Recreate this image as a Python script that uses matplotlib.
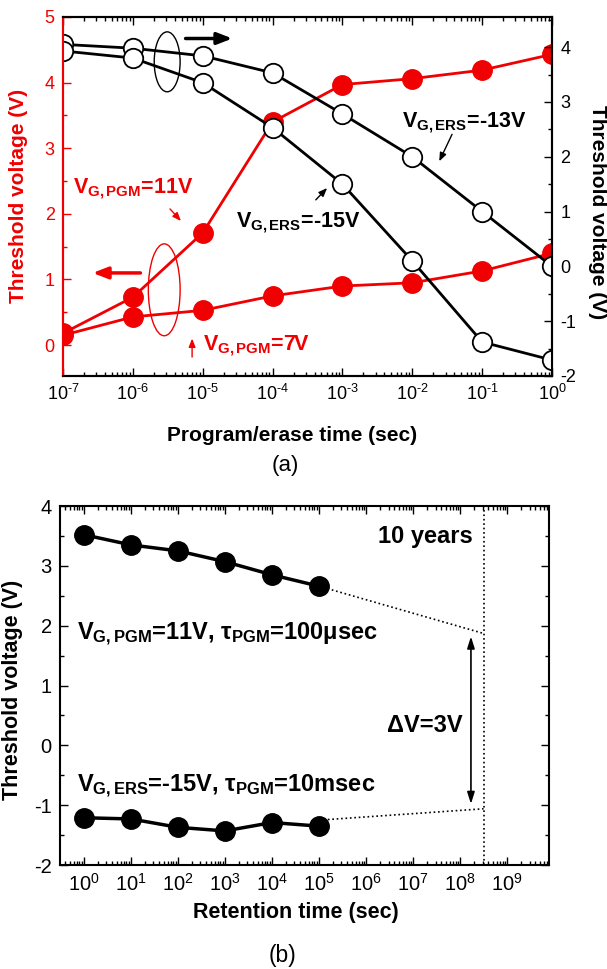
import numpy as np
import matplotlib
matplotlib.use('Agg')
import matplotlib.pyplot as plt
from matplotlib.patches import Ellipse
from matplotlib.ticker import (LogLocator, MultipleLocator, NullFormatter,
                               FixedLocator, FuncFormatter)

plt.rcParams['font.family'] = ['Liberation Sans', 'DejaVu Sans']
plt.rcParams['mathtext.fontset'] = 'custom'
plt.rcParams['mathtext.rm'] = 'Liberation Sans'
plt.rcParams['mathtext.bf'] = 'Liberation Sans:bold'
plt.rcParams['mathtext.it'] = 'Liberation Sans:italic'
plt.rcParams['axes.unicode_minus'] = False

ROUGE = '#f00000'

# (a) Vth en fonction du temps de programmation / effacement
t_pe = [1e-7, 1e-6, 1e-5, 1e-4, 1e-3, 1e-2, 1e-1, 1e0]
vth_pgm11 = [0.18, 0.73, 1.71, 3.40, 3.97, 4.06, 4.19, 4.43]
vth_pgm7 = [0.15, 0.43, 0.53, 0.75, 0.90, 0.95, 1.13, 1.40]
vth_ers13 = [4.05, 3.98, 3.84, 3.53, 2.78, 2.00, 1.00, 0.00]
vth_ers15 = [3.93, 3.80, 3.35, 2.53, 1.50, 0.10, -1.38, -1.71]

# (b) retention
t_ret = [1e0, 1e1, 1e2, 1e3, 1e4, 1e5]
vth_ret_pgm = [3.52, 3.35, 3.25, 3.07, 2.85, 2.66]
vth_ret_ers = [-1.21, -1.23, -1.37, -1.43, -1.29, -1.35]
dix_ans = 10 * 365 * 24 * 3600
extrap_t = [1e5, dix_ans]
extrap_pgm = [2.66, 1.87]
extrap_ers = [-1.25, -1.06]
delta_t = 1.7e8
delta_v = [1.82, -0.98]
decades_ret = [10.0**k for k in range(10)]


def puissance(x, pos):
    e = int(round(np.log10(x)))
    if e < 0:
        return r'10$^{\mathregular{\text{-}%d}}$' % (-e)
    return r'10$^{\mathregular{%d}}$' % e


fig = plt.figure(figsize=(6.07, 9.69), dpi=100)


def style_axes(ax, taille=13):
    ax.tick_params(which='both', direction='in', top=True, width=1.0, labelsize=taille, pad=6)
    ax.tick_params(which='major', length=6)
    ax.tick_params(which='minor', length=3)
    for s in ax.spines.values():
        s.set_linewidth(1.5)


# ---------- (a) ----------
ax = fig.add_axes([0.1038, 0.612, 0.8056, 0.3705])
ax2 = ax.twinx()

ax.plot(t_pe, vth_pgm11, '-o', color=ROUGE, lw=2.0, ms=14, mec=ROUGE)
ax.plot(t_pe, vth_pgm7, '-o', color=ROUGE, lw=2.0, ms=14, mec=ROUGE)
ax2.plot(t_pe, vth_ers13, '-o', color='black', lw=2.0, ms=14, mfc='white', mec='black', mew=1.3)
ax2.plot(t_pe, vth_ers15, '-o', color='black', lw=2.0, ms=14, mfc='white', mec='black', mew=1.3)

ax.set_xscale('log')
ax.set_xlim(1e-7, 1e0)
ax.set_ylim(-0.47, 5)
ax2.set_ylim(-2, 4.55)
ax.xaxis.set_major_locator(LogLocator(base=10, numticks=20))
ax.xaxis.set_major_formatter(FuncFormatter(puissance))
ax.xaxis.set_minor_locator(LogLocator(base=10, subs=np.arange(2, 10), numticks=20))
ax.xaxis.set_minor_formatter(NullFormatter())
ax.yaxis.set_major_locator(MultipleLocator(1))
ax.yaxis.set_minor_locator(MultipleLocator(0.5))
ax2.yaxis.set_major_locator(MultipleLocator(1))
ax2.yaxis.set_minor_locator(MultipleLocator(0.5))

style_axes(ax)
ax.tick_params(axis='y', which='both', right=False, colors=ROUGE)
ax2.tick_params(which='both', direction='in', width=1.0, labelsize=13, pad=6)
ax2.tick_params(which='major', length=6)
ax2.tick_params(which='minor', length=3)
for s in ax2.spines.values():
    s.set_linewidth(1.5)
ax2.spines['left'].set_color(ROUGE)
ax.spines['left'].set_color(ROUGE)

fig.text(0.0297, 0.798, 'Threshold voltage (V)', color=ROUGE, fontsize=15,
         fontweight='bold', rotation=90, ha='center', va='center')
fig.text(0.984, 0.781, 'Threshold voltage (V)', color='black', fontsize=15,
         fontweight='bold', rotation=270, ha='center', va='center')
fig.text(0.481, 0.551, 'Program/erase time (sec)', fontsize=15,
         fontweight='bold', ha='center', va='center')
fig.text(0.4695, 0.520, '(a)', fontsize=16, ha='center', va='center')

# annotations (a)
ax.add_patch(Ellipse((0.207, 0.24), 0.065, 0.256, transform=ax.transAxes,
                     fill=False, ec=ROUGE, lw=1.0))
ax.add_patch(Ellipse((0.213, 0.875), 0.053, 0.167, transform=ax.transAxes,
                     fill=False, ec='black', lw=1.0))
ax.annotate('', xy=(0.055, 0.287), xytext=(0.164, 0.287), xycoords='axes fraction',
            arrowprops=dict(arrowstyle='-|>,head_length=0.9,head_width=0.35',
                            color=ROUGE, lw=2.5))
ax.annotate('', xy=(0.352, 0.94), xytext=(0.245, 0.94), xycoords='axes fraction',
            arrowprops=dict(arrowstyle='-|>,head_length=0.9,head_width=0.35',
                            color='black', lw=2.5))

txt_kw = dict(fontsize=15.5, fontweight='bold', transform=ax.transAxes)
petite = dict(arrowstyle='-|>,head_length=0.5,head_width=0.2', lw=1)
ax.text(0.02, 0.51, r'V$_{\mathbf{G,PGM}}$=11V', color=ROUGE, **txt_kw)
ax.annotate('', xy=(0.245, 0.426), xytext=(0.215, 0.471), xycoords='axes fraction',
            arrowprops=dict(color=ROUGE, **petite))
ax.text(0.354, 0.415, r'V$_{\mathbf{G,ERS}}$=-15V', color='black', **txt_kw)
ax.annotate('', xy=(0.544, 0.529), xytext=(0.513, 0.485), xycoords='axes fraction',
            arrowprops=dict(color='black', **petite))
ax.text(0.693, 0.694, r'V$_{\mathbf{G,ERS}}$=-13V', color='black', **txt_kw)
ax.annotate('', xy=(0.767, 0.591), xytext=(0.798, 0.680), xycoords='axes fraction',
            arrowprops=dict(color='black', **petite))
ax.text(0.286, 0.072, r'V$_{\mathbf{G,PGM}}$=7V', color=ROUGE, **txt_kw)
ax.annotate('', xy=(0.264, 0.112), xytext=(0.264, 0.045), xycoords='axes fraction',
            arrowprops=dict(color=ROUGE, **petite))

# ---------- (b) ----------
bx = fig.add_axes([0.0988, 0.1073, 0.8056, 0.3705])
bx.plot(t_ret, vth_ret_pgm, '-o', color='black', lw=2.5, ms=14)
bx.plot(t_ret, vth_ret_ers, '-o', color='black', lw=2.5, ms=14)
bx.plot(extrap_t, extrap_pgm, ':', color='black', lw=1.2, zorder=1)
bx.plot(extrap_t, extrap_ers, ':', color='black', lw=1.2, zorder=1)
bx.axvline(dix_ans, ls=':', color='black', lw=1.2)
bx.annotate('', xy=(delta_t, delta_v[0]), xytext=(delta_t, delta_v[1]),
            arrowprops=dict(arrowstyle='<|-|>,head_length=0.7,head_width=0.22',
                            color='black', lw=1.2, shrinkA=0, shrinkB=0))

bx.set_xscale('log')
bx.set_xlim(10**-0.51, 10**9.89)
bx.set_ylim(-2, 4)
bx.xaxis.set_major_locator(FixedLocator(decades_ret))
bx.xaxis.set_major_formatter(FuncFormatter(puissance))
bx.xaxis.set_minor_locator(LogLocator(base=10, subs=np.arange(2, 10), numticks=30))
bx.xaxis.set_minor_formatter(NullFormatter())
bx.yaxis.set_major_locator(MultipleLocator(1))
bx.yaxis.set_minor_locator(MultipleLocator(0.5))
style_axes(bx, taille=14.5)
bx.tick_params(which='both', right=True)

fig.text(0.0214, 0.288, 'Threshold voltage (V)', fontsize=15.5,
         fontweight='bold', rotation=90, ha='center', va='center')
fig.text(0.488, 0.0578, 'Retention time (sec)', fontsize=15.5,
         fontweight='bold', ha='center', va='center')
fig.text(0.466, 0.0144, '(b)', fontsize=16.5, ha='center', va='center')

bx.text(0.844, 0.897, '10 years', ha='right', fontsize=17, fontweight='bold',
        transform=bx.transAxes)
bx.text(0.669, 0.370, 'ΔV=3V', fontsize=17, fontweight='bold', transform=bx.transAxes)
bx.text(0.0348, 0.627, r'V$_{\mathbf{G,PGM}}$=11V, τ$_{\mathbf{PGM}}$=100μsec',
        fontsize=17, fontweight='bold', transform=bx.transAxes)
bx.text(0.0348, 0.204, r'V$_{\mathbf{G,ERS}}$=-15V, τ$_{\mathbf{PGM}}$=10msec',
        fontsize=17, fontweight='bold', transform=bx.transAxes)

fig.savefig('out.png', dpi=100)
